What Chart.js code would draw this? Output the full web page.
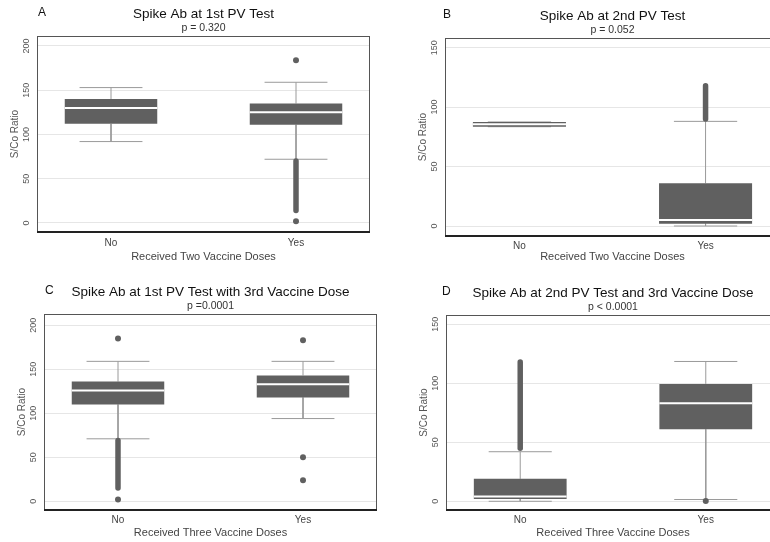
<!DOCTYPE html>
<html>
<head>
<meta charset="utf-8">
<script src="https://cdn.jsdelivr.net/npm/chart.js@4.4.1/dist/chart.umd.min.js"></script>
<style>
  html, body { margin: 0; padding: 0; background: #fff; width: 770px; height: 542px; overflow: hidden; position: relative; }
  canvas { position: absolute; }
</style>
</head>
<body>
<canvas id="chartA" width="385" height="271" style="left:0;top:0"></canvas>
<canvas id="chartB" width="410" height="271" style="left:385px;top:0"></canvas>
<canvas id="chartC" width="385" height="271" style="left:0;top:271px"></canvas>
<canvas id="chartD" width="410" height="271" style="left:385px;top:271px"></canvas>
<script>
const categories = ["No", "Yes"];
const ticks200 = [0, 50, 100, 150, 200];
const ticks150 = [0, 50, 100, 150];

// A: Spike Ab at 1st PV Test
const aQ1 = [112, 111];
const aMedian = [130, 125];
const aQ3 = [140, 135];
const aLow = [92, 72];
const aHigh = [153, 159];
const aOutliers = [[], [184, 2]];
const aBands = [null, [14, 70]];

// B: Spike Ab at 2nd PV Test
const bQ1 = [83.5, 2];
const bMedian = [85.5, 5];
const bQ3 = [87.5, 36];
const bLow = [83.5, 0];
const bHigh = [87.5, 88];
const bOutliers = [[], []];
const bBands = [null, [90, 118]];

// C: 1st PV Test with 3rd dose
const cQ1 = [110, 118];
const cMedian = [126, 133];
const cQ3 = [136, 143];
const cLow = [71, 94];
const cHigh = [159, 159];
const cOutliers = [[185, 2], [183, 50, 24]];
const cBands = [[15, 69], null];

// D: 2nd PV Test and 3rd dose
const dQ1 = [2, 61];
const dMedian = [4, 83];
const dQ3 = [19, 99.5];
const dLow = [0, 1.5];
const dHigh = [42, 118.5];
const dOutliers = [[], [0.3]];
const dBands = [[45, 118], null];

const FONT = '"Liberation Sans", Arial, sans-serif';
const BOX = '#606060';
const HALF = 0.25;   // half box width in x units
const CAP = 0.17;    // half whisker cap width

const panelDecor = {
  id: 'panelDecor',
  afterDraw(chart, args, o) {
    const { ctx, chartArea: a } = chart;
    ctx.save();
    ctx.strokeStyle = '#555';
    ctx.lineWidth = 1;
    ctx.strokeRect(a.left + 0.5, a.top + 0.5, a.right - a.left - 1, a.bottom - a.top - 1);
    ctx.strokeStyle = '#222';
    ctx.lineWidth = 2;
    ctx.beginPath();
    ctx.moveTo(a.left, a.bottom);
    ctx.lineTo(a.right, a.bottom);
    ctx.stroke();
    ctx.textBaseline = 'middle';
    ctx.fillStyle = '#111';
    ctx.textAlign = 'left';
    ctx.font = '12px ' + FONT;
    ctx.fillText(o.letter, a.left + o.letterDx, a.top - 23);
    ctx.textAlign = 'center';
    ctx.font = '13.5px ' + FONT;
    const cx = (a.left + a.right) / 2;
    ctx.fillText(o.title, cx, a.top - 22);
    ctx.fillStyle = '#333';
    ctx.font = '10.5px ' + FONT;
    ctx.fillText(o.sub, cx, a.top - 7.5);
    ctx.restore();
  }
};

function makePanel(id, p) {
  const boxes = categories.map((c, i) => ({ x: i, y: [p.q1[i], p.q3[i]] }));
  const whisk = [], med = [], band = [], pts = [];
  categories.forEach((c, i) => {
    whisk.push({ x: i, y: p.q3[i] }, { x: i, y: p.high[i] }, { x: i, y: null },
               { x: i, y: p.q1[i] }, { x: i, y: p.low[i] }, { x: i, y: null },
               { x: i - CAP, y: p.high[i] }, { x: i + CAP, y: p.high[i] }, { x: i, y: null },
               { x: i - CAP, y: p.low[i] }, { x: i + CAP, y: p.low[i] }, { x: i, y: null });
    med.push({ x: i - HALF, y: p.median[i] }, { x: i + HALF, y: p.median[i] }, { x: i, y: null });
    if (p.bands[i]) band.push({ x: i, y: p.bands[i][0] }, { x: i, y: p.bands[i][1] }, { x: i, y: null });
    p.outliers[i].forEach(v => pts.push({ x: i, y: v }));
  });

  new Chart(document.getElementById(id), {
    type: 'bar',
    data: {
      datasets: [
        { type: 'line', data: whisk, borderColor: '#9a9a9a', borderWidth: 1, pointRadius: 0, spanGaps: false, order: 4 },
        { type: 'bar', data: boxes, backgroundColor: BOX, borderWidth: 0, categoryPercentage: 1, barPercentage: 0.5, order: 3 },
        { type: 'line', data: med, borderColor: '#ffffff', borderWidth: 2, pointRadius: 0, spanGaps: false, order: 2 },
        { type: 'line', data: band, borderColor: BOX, borderWidth: 5.5, borderCapStyle: 'round', pointRadius: 0, spanGaps: false, order: 1 },
        { type: 'line', data: pts, showLine: false, pointRadius: 3, pointBackgroundColor: BOX, pointBorderWidth: 0, order: 0 }
      ]
    },
    options: {
      responsive: false,
      animation: false,
      devicePixelRatio: 1,
      layout: { padding: p.pad },
      plugins: {
        legend: { display: false },
        tooltip: { enabled: false },
        panelDecor: { letter: p.letter, letterDx: p.letterDx, title: p.title, sub: p.sub }
      },
      scales: {
        x: {
          type: 'linear',
          offset: false,
          min: -0.4,
          max: 1.4,
          afterBuildTicks: s => { s.ticks = categories.map((c, i) => ({ value: i })); },
          ticks: { callback: v => categories[v], font: { size: 10, family: FONT }, color: '#444', padding: p.xTickPad, autoSkip: false, maxRotation: 0 },
          grid: { display: false, drawTicks: false },
          border: { display: false },
          title: { display: true, text: p.xTitle, font: { size: 11, family: FONT }, color: '#444', padding: { top: 0, bottom: p.xTitlePad } },
          afterFit: s => { s.height = p.xHeight; }
        },
        y: {
          min: p.yMin,
          max: p.yMax,
          afterBuildTicks: s => { s.ticks = p.yTicks.map(v => ({ value: v })); },
          ticks: { font: { size: 9, family: FONT }, color: '#555', minRotation: 90, maxRotation: 90, crossAlign: 'center', padding: 3, autoSkip: false },
          grid: { color: '#e6e6e6', drawTicks: false },
          border: { display: false },
          title: { display: true, text: 'S/Co Ratio', font: { size: 10, family: FONT }, color: '#555', padding: { top: 9, bottom: 0 } },
          afterFit: s => { s.width = 37; }
        }
      }
    },
    plugins: [panelDecor]
  });
}

makePanel('chartA', {
  q1: aQ1, median: aMedian, q3: aQ3, low: aLow, high: aHigh, outliers: aOutliers, bands: aBands,
  letter: 'A', letterDx: 1, title: 'Spike Ab at 1st PV Test', sub: 'p = 0.320',
  xTitle: 'Received Two Vaccine Doses', yMin: -10.2, yMax: 211.3, yTicks: ticks200,
  pad: { left: 0, right: 15, top: 36, bottom: 0 }, xHeight: 39, xTickPad: 5, xTitlePad: 7
});
makePanel('chartB', {
  q1: bQ1, median: bMedian, q3: bQ3, low: bLow, high: bHigh, outliers: bOutliers, bands: bBands,
  letter: 'B', letterDx: -2, title: 'Spike Ab at 2nd PV Test', sub: 'p = 0.052',
  xTitle: 'Received Two Vaccine Doses', yMin: -8.4, yMax: 158.1, yTicks: ticks150,
  pad: { left: 23, right: 15, top: 38, bottom: 0 }, xHeight: 35, xTickPad: 4, xTitlePad: 7
});
makePanel('chartC', {
  q1: cQ1, median: cMedian, q3: cQ3, low: cLow, high: cHigh, outliers: cOutliers, bands: cBands,
  letter: 'C', letterDx: 1, title: 'Spike Ab at 1st PV Test with 3rd Vaccine Dose', sub: 'p =0.0001',
  xTitle: 'Received Three Vaccine Doses', yMin: -9.9, yMax: 212.8, yTicks: ticks200,
  pad: { left: 7, right: 8, top: 43, bottom: 0 }, xHeight: 32, xTickPad: 4, xTitlePad: 2
});
makePanel('chartD', {
  q1: dQ1, median: dMedian, q3: dQ3, low: dLow, high: dHigh, outliers: dOutliers, bands: dBands,
  letter: 'D', letterDx: -4, title: 'Spike Ab at 2nd PV Test and 3rd Vaccine Dose', sub: 'p < 0.0001',
  xTitle: 'Received Three Vaccine Doses', yMin: -7.4, yMax: 157.9, yTicks: ticks150,
  pad: { left: 24, right: 15, top: 44, bottom: 0 }, xHeight: 32, xTickPad: 4, xTitlePad: 2
});
</script>
</body>
</html>
